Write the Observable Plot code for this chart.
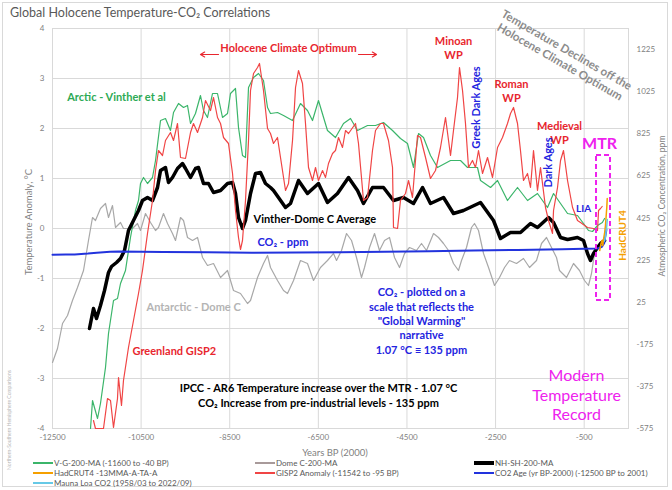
<!DOCTYPE html>
<html>
<head>
<meta charset="utf-8">
<script src="https://cdn.jsdelivr.net/npm/d3@7"></script>
<script src="https://cdn.jsdelivr.net/npm/@observablehq/plot@0.6"></script>
<style>
  html, body { margin: 0; padding: 0; background: #fff; }
  body { font-family: Lato, "DejaVu Sans", sans-serif; }
  #wrap { position: relative; width: 672px; height: 490px; overflow: hidden; background: #fff; }
  #border { position: absolute; left: 2px; top: 2px; width: 666px; height: 485px; border: 1px solid #d9d9d9; box-sizing: border-box; pointer-events: none; }
  #chart { position: absolute; left: 0; top: 0; }
  .ov { position: absolute; white-space: nowrap; color: #595959; }
  .rot { transform: translate(-50%, -50%) rotate(-90deg); transform-origin: center; }
  .leg { position: absolute; font-size: 8px; color: #595959; white-space: nowrap; line-height: 8px; transform: translateY(-50%); }
  .sw { display: inline-block; width: 20px; height: 2px; vertical-align: middle; margin-right: 1px; position: relative; top: -1px; }
</style>
</head>
<body>
<div id="wrap">
  <div id="chart"></div>
  <div id="border"></div>
  <div class="ov" style="left:10px;top:5px;font-size:12.5px;color:#595959;">Global Holocene Temperature-CO₂ Correlations</div>
  <div class="ov rot" style="left:28px;top:222px;font-size:9.5px;color:#7f7f7f;">Temperature Anomaly, °C</div>
  <div class="ov rot" style="left:662px;top:206px;font-size:8.5px;color:#7f7f7f;">Atmospheric CO₂ Concentration, ppm</div>
  <div class="ov" style="left:335px;top:453px;transform:translate(-50%,-50%);font-size:9.5px;line-height:10px;color:#7f7f7f;">Years BP (2000)</div>
  <div class="ov rot" style="left:9px;top:420px;font-size:5px;color:#b8b8b8;">Northern-Southern Hemisphere Comparisons</div>
  <div id="legend"></div>
</div>
<script>
// ---------- data (year BP(2000), value) ----------
const xTicks = [-12500, -10500, -8500, -6500, -4500, -2500, -500];
const yTicks = [-4, -3, -2, -1, 0, 1, 2, 3, 4];
const ppmTicks = [-575, -375, -175, 25, 225, 425, 625, 825, 1025, 1225];

// V-G-200-MA (Arctic - Vinther et al), °C
const arcticVinther = [[-11642,-4],[-11597,-3.44],[-11484,-3.8],[-11417,-3.5],[-11304,-2.78],[-11236,-2.1],[-11123,-1.44],[-11033,-1.4],[-10965,-1.1],[-10853,-0.84],[-10740,-0.18],[-10627,0.36],[-10559,0.56],[-10514,0.9],[-10446,1.02],[-10356,0.9],[-10243,1.02],[-10175,1.36],[-10062,2.16],[-9950,2.2],[-9837,1.96],[-9769,2.32],[-9656,2.5],[-9543,2.42],[-9453,2.46],[-9385,2.1],[-9273,2.3],[-9160,2.66],[-9092,2.36],[-9002,2.22],[-8889,2.7],[-8776,2.7],[-8663,2.22],[-8550,2.3],[-8483,2.7],[-8370,2.8],[-8302,2.02],[-8212,1.46],[-8144,1.42],[-8076,2.82],[-7963,3.02],[-7850,3.1],[-7738,2.96],[-7647,2.42],[-7580,2.3],[-7422,2.32],[-7286,2.26],[-7083,2.16],[-6903,2.5],[-6745,2.36],[-6632,2.16],[-6497,2.56],[-6294,1.96],[-6113,1.82],[-5932,2.1],[-5774,2.2],[-5616,1.96],[-5390,2.06],[-5210,2.06],[-5030,2.12],[-4826,1.96],[-4646,1.8],[-4488,1.7],[-4352,1.22],[-4239,1.9],[-4126,1.82],[-3969,1.46],[-3811,1.22],[-3517,1.36],[-3292,1.36],[-3133,1.22],[-2908,1.22],[-2840,0.96],[-2614,0.82],[-2456,0.96],[-2231,0.56],[-2005,0.82],[-1779,0.56],[-1554,0.7],[-1328,0.42],[-1192,0.7],[-1034,0.5],[-876,0.3],[-651,0.26],[-515,0.1],[-403,-0.04],[-312,-0.06],[-199,0.06],[-90,0.12],[-40,0.2]];

// Dome C-200-MA (Antarctic), °C
const domeC = [[-12500,-2.68],[-12387,-2.4],[-12274,-1.9],[-12161,-1.74],[-12049,-1.44],[-11936,-1.18],[-11800,-0.84],[-11688,-0.24],[-11597,0.22],[-11530,0.16],[-11417,0.4],[-11304,0.5],[-11236,0.22],[-11146,0.46],[-11078,0.02],[-10965,0.12],[-10898,0],[-10694,0],[-10582,0.1],[-10514,-0.04],[-10401,0.3],[-10288,0.12],[-10175,-0.04],[-10108,0.02],[-9995,0.3],[-9904,0.1],[-9792,-0.1],[-9724,-0.24],[-9611,0.22],[-9543,0.16],[-9453,-0.18],[-9340,-0.24],[-9227,-0.18],[-9114,-0.58],[-9002,-0.74],[-8866,-0.7],[-8708,-0.98],[-8550,-0.84],[-8415,-1.24],[-8257,-1.3],[-8099,-1.5],[-8031,-1.44],[-7873,-0.98],[-7738,-0.7],[-7647,-0.54],[-7580,-0.78],[-7422,-1.04],[-7286,-1.24],[-7196,-1.3],[-7060,-1.04],[-6903,-0.64],[-6745,-0.7],[-6609,-1.04],[-6452,-0.78],[-6294,-0.64],[-6158,-0.5],[-6090,-0.64],[-5977,-0.44],[-5864,-0.1],[-5751,-0.24],[-5639,-0.58],[-5526,-0.98],[-5458,-0.78],[-5345,-0.38],[-5232,-0.1],[-5120,-0.44],[-5007,-0.24],[-4894,-0.18],[-4781,-0.58],[-4668,-0.78],[-4555,-0.5],[-4443,-0.38],[-4285,-0.44],[-4172,-0.3],[-4059,-0.44],[-3901,-0.1],[-3788,-0.18],[-3675,-0.3],[-3562,-0.44],[-3450,-0.7],[-3337,-0.84],[-3269,-0.64],[-3156,-0.38],[-3043,0.02],[-2976,0.1],[-2885,-0.04],[-2772,-0.5],[-2659,-0.78],[-2524,-1.14],[-2411,-0.98],[-2298,-0.78],[-2186,-0.64],[-2028,-0.7],[-1870,-0.6],[-1734,-0.78],[-1576,-0.64],[-1463,-0.3],[-1350,-0.18],[-1238,-0.38],[-1125,-0.58],[-1057,-0.84],[-899,-0.98],[-741,-0.7],[-606,-0.84],[-493,-1.04],[-403,-1.14],[-335,-0.9],[-267,-0.5],[-176,-0.38]];

// NH-SH-200-MA (Vinther-Dome C Average), °C
const nhshAverage = [[-11665,-2],[-11575,-1.6],[-11507,-1.8],[-11417,-1.54],[-11326,-1.24],[-11236,-0.88],[-11168,-0.76],[-11055,-0.68],[-10965,-0.6],[-10875,-0.44],[-10785,-0.04],[-10672,0.16],[-10559,0.36],[-10469,0.56],[-10356,0.62],[-10243,0.56],[-10130,0.82],[-10062,1.16],[-9950,1.22],[-9882,0.92],[-9792,1.02],[-9679,1.2],[-9566,1.3],[-9498,1.2],[-9385,1.02],[-9273,1.2],[-9205,1.22],[-9092,0.9],[-8979,0.9],[-8866,0.72],[-8708,0.76],[-8550,0.9],[-8437,0.92],[-8370,0.7],[-8302,0.22],[-8212,0],[-8144,0.16],[-8031,0.7],[-7918,1.1],[-7806,1.12],[-7693,0.9],[-7580,0.82],[-7512,0.76],[-7241,0.42],[-7128,0.5],[-6948,0.96],[-6745,0.7],[-6497,0.9],[-6294,0.52],[-6068,0.7],[-5819,1.02],[-5616,0.76],[-5481,0.5],[-5278,0.82],[-5030,0.82],[-4804,0.56],[-4578,0.62],[-4352,0.5],[-4149,0.82],[-3969,0.5],[-3675,0.62],[-3450,0.3],[-3224,0.36],[-2840,0.52],[-2547,0.16],[-2389,-0.2],[-2164,-0.08],[-1938,-0.08],[-1712,0.1],[-1554,0.02],[-1305,0.22],[-1192,0.12],[-1034,-0.18],[-876,-0.22],[-651,-0.18],[-515,-0.24],[-425,-0.5],[-357,-0.64],[-290,-0.5],[-199,-0.38],[-131,-0.3],[-40,-0.24]];

// GISP2 Anomaly (Greenland), °C
const gisp2 = [[-11575,-3.84],[-11530,-4],[-11349,-4],[-11259,-3.4],[-11191,-3.44],[-11123,-3.98],[-11033,-3.4],[-11010,-2.98],[-10943,-3.54],[-10898,-3.04],[-10785,-2.38],[-10672,-1.84],[-10559,-1.3],[-10469,-0.84],[-10356,-0.1],[-10243,0.56],[-10175,1.16],[-10108,1.56],[-10017,1.46],[-9950,1.76],[-9837,1.92],[-9769,1.76],[-9679,2.1],[-9611,1.42],[-9498,1.4],[-9385,1.92],[-9318,2.1],[-9227,1.92],[-9114,2.22],[-9047,2.56],[-8934,2.36],[-8866,2.62],[-8776,2.22],[-8708,2.1],[-8640,1.82],[-8528,1.7],[-8437,1.1],[-8370,0.36],[-8302,-0.18],[-8257,-0.42],[-8212,-0.24],[-8144,0.56],[-8076,1.76],[-8031,2.76],[-7963,3.1],[-7873,3.22],[-7828,3.3],[-7738,2.76],[-7647,2],[-7580,1.9],[-7512,1.7],[-7422,1.82],[-7354,1.42],[-7241,0.76],[-7173,0.9],[-7083,1.76],[-7015,2.82],[-6948,3.16],[-6858,2.9],[-6790,2.1],[-6722,1.22],[-6632,0.96],[-6564,1.22],[-6497,0.96],[-6406,1.16],[-6338,1.02],[-6271,1.3],[-6180,1.5],[-6113,1.56],[-6045,1.82],[-5955,1.62],[-5887,1.96],[-5819,1.9],[-5661,2.1],[-5594,1.7],[-5481,0.56],[-5390,0.62],[-5278,1.56],[-5210,1.96],[-5097,2.1],[-5030,2.1],[-4917,1.76],[-4826,1.22],[-4804,0.02],[-4713,0],[-4646,0.56],[-4533,0.7],[-4465,0.96],[-4375,0.62],[-4262,1.86],[-4194,1.82],[-4081,1.42],[-3969,1],[-3856,1.16],[-3743,1.62],[-3630,2.22],[-3517,1.46],[-3450,1.96],[-3359,2.62],[-3314,3.22],[-3246,2.76],[-3179,2.1],[-3111,1.22],[-3021,1.36],[-2953,1.22],[-2885,1.56],[-2795,1.1],[-2682,1.42],[-2569,1.02],[-2456,1.62],[-2344,1.82],[-2231,2.1],[-2163,2.3],[-2095,2.42],[-2005,2.1],[-1938,1.56],[-1870,0.96],[-1779,1.1],[-1712,0.82],[-1644,1.56],[-1554,0.76],[-1486,1.22],[-1373,0.42],[-1305,0.16],[-1215,-0.1],[-1192,0.36],[-1102,0.82],[-1034,1.36],[-967,1.56],[-876,0.96],[-763,0.42],[-651,0.16],[-583,0.12],[-425,0.02],[-290,0],[-199,-0.04],[-176,0.36],[-131,0.4],[-95,0.44]];

// CO2 age (ppm, right axis)
const co2Age = [[-12500,250],[-12200,251],[-12000,252],[-11700,256],[-11500,260],[-11200,264],[-11000,266],[-10500,265],[-10000,263],[-9000,262],[-8000,260],[-7000,261],[-6000,262],[-5000,264],[-4000,267],[-3000,270],[-2000,273],[-1000,277],[-500,279],[-200,280],[-100,288],[-50,305],[0,368],[1,370]];

// HadCRUT4 (°C)
const hadcrut4 = [[-150,-0.44],[-120,-0.3],[-100,-0.24],[-80,-0.34],[-60,-0.2],[-40,-0.1],[-20,0.06],[-10,0.18],[0,0.3],[10,0.42],[20,0.6]];

// Mauna Loa CO2 (ppm, right axis)
const maunaLoa = [[-42,315],[-30,325],[-20,339],[-10,354],[0,369],[10,389],[20,414],[22,418]];

// ---------- helpers ----------
const toY = ppm => (ppm + 575) / 1900 * 8 - 4;          // ppm -> left-axis units
const fromY = v => Math.round((v + 4) / 8 * 1900 - 575);

const C = {
  green: "#3bb56a", greenTxt: "#2eaa55",
  red: "#f04545", redTxt: "#e8262e",
  gray: "#a8a8a8", black: "#000000",
  blue: "#2233dd", blueTxt: "#2424e0",
  orange: "#f5a000", cyan: "#66c9e6", magenta: "#ee22ee"
};

const annotations = [
  {text:"Holocene Climate Optimum", x:-7173, y:3.6, color:C.redTxt},
  {text:"Arctic - Vinther et al", x:-11056, y:2.62, color:C.greenTxt},
  {text:"Minoan\nWP", x:-3449, y:3.62, color:C.redTxt, lh:1.25},
  {text:"Greek Dark Ages", x:-2930, y:2.42, color:C.blueTxt, rotate:-90},
  {text:"Roman\nWP", x:-2140, y:2.76, color:C.redTxt, lh:1.25},
  {text:"Medieval\nWP", x:-1057, y:1.92, color:C.redTxt, lh:1.25},
  {text:"Dark Ages", x:-1305, y:1.32, color:C.blueTxt, rotate:-90},
  {text:"MTR", x:-154, y:1.7, color:C.magenta, size:16},
  {text:"LIA", x:-515, y:0.4, color:C.blueTxt, size:10},
  {text:"HadCRUT4", x:365, y:-0.14, color:C.orange, size:10, rotate:-90},
  {text:"Temperature Declines off the\nHolocene Climate Optimum", x:-967, y:3.46, color:"#8c8c8c", size:11.5, rotate:30, lh:1.2},
  {text:"Vinther-Dome C Average", x:-7963, y:0.18, color:"#000", anchor:"start"},
  {text:"CO₂ - ppm", x:-7873, y:-0.28, color:C.blueTxt, anchor:"start"},
  {text:"Antarctic - Dome C", x:-10378, y:-1.58, color:"#b4b4b4", anchor:"start"},
  {text:"Greenland GISP2", x:-10694, y:-2.46, color:C.redTxt, anchor:"start"},
  {text:"CO₂ - plotted on a\nscale that reflects the\n\"Global Warming\"\nnarrative\n1.07 °C ≡ 135 ppm", x:-4172, y:-1.84, color:C.blueTxt, lh:1.3},
  {text:"IPCC - AR6 Temperature increase over the MTR - 1.07 °C\nCO₂ Increase from pre-industrial levels - 135 ppm", x:-6496, y:-3.33, color:"#000", lh:1.35},
  {text:"Modern\nTemperature\nRecord", x:-673, y:-3.32, color:C.magenta, size:16, weight:"normal", lh:1.2}
];
const optimumArrows = [
  {x1:-8753, y1:3.48, x2:-9160, y2:3.48},
  {x1:-5594, y1:3.48, x2:-5187, y2:3.48}
];
const mtrBox = [{x1:-222, x2:94, y1:1.46, y2:-1.44}];

const px = d => d[0], py = d => d[1];

const marks = [
  Plot.gridX(xTicks, {stroke:"#d9d9d9", strokeOpacity:1}),
  Plot.gridY(yTicks, {stroke:"#d9d9d9", strokeOpacity:1}),
  Plot.frame({stroke:"#d9d9d9"}),
  Plot.axisX({ticks:xTicks, tickSize:0, tickPadding:6, tickFormat:d => String(d), label:null, fontSize:8, fill:"#7f7f7f"}),
  Plot.axisY({ticks:yTicks, tickSize:0, tickPadding:8, tickFormat:d => String(d), label:null, fontSize:8, fill:"#7f7f7f"}),
  Plot.axisY({anchor:"right", ticks:ppmTicks.map(toY), tickSize:0, tickPadding:8, tickFormat:v => String(fromY(v)), label:null, fontSize:8, fill:"#7f7f7f"}),
  Plot.line(domeC, {x:px, y:py, stroke:C.gray, strokeWidth:1.2}),
  Plot.line(arcticVinther, {x:px, y:py, stroke:C.green, strokeWidth:1.2}),
  Plot.line(nhshAverage, {x:px, y:py, stroke:C.black, strokeWidth:3.5}),
  Plot.line(gisp2, {x:px, y:py, stroke:C.red, strokeWidth:1.2}),
  Plot.line(co2Age, {x:px, y:d => toY(d[1]), stroke:C.blue, strokeWidth:2}),
  Plot.line(hadcrut4, {x:px, y:py, stroke:C.orange, strokeWidth:1.5}),
  Plot.line(maunaLoa, {x:px, y:d => toY(d[1]), stroke:C.cyan, strokeWidth:1.5}),
  Plot.rect(mtrBox, {x1:"x1", x2:"x2", y1:"y1", y2:"y2", fill:"none", stroke:C.magenta, strokeWidth:2, strokeDasharray:"5,3"}),
  Plot.arrow(optimumArrows, {x1:"x1", y1:"y1", x2:"x2", y2:"y2", stroke:C.redTxt, strokeWidth:1.2, headLength:6})
];
for (const a of annotations) {
  marks.push(Plot.text([a], {
    x:"x", y:"y", text:"text",
    fill:a.color, fontSize:a.size || 11, fontWeight:a.weight || "bold",
    rotate:a.rotate || 0, textAnchor:a.anchor || "middle", lineHeight:a.lh || 1
  }));
}

const chart = Plot.plot({
  width:672, height:490,
  marginLeft:52, marginRight:44, marginTop:28, marginBottom:62,
  style:{fontFamily:"Lato, 'DejaVu Sans', sans-serif", background:"transparent", overflow:"visible"},
  x:{domain:[-12500, 500]},
  y:{domain:[-4, 4]},
  marks
});
document.getElementById("chart").appendChild(chart);

// ---------- legend ----------
const legendItems = [
  {label:"V-G-200-MA (-11600 to -40 BP)", color:C.green, w:2, left:33, top:463},
  {label:"Dome C-200-MA", color:"#a89a9a", w:1.5, left:255, top:463},
  {label:"NH-SH-200-MA", color:"#000", w:4, left:474, top:463},
  {label:"HadCRUT4 -13MMA-A-TA-A", color:C.orange, w:2, left:33, top:473},
  {label:"GISP2 Anomaly (-11542 to -95 BP)", color:C.red, w:2, left:255, top:473},
  {label:"CO2 Age (yr BP-2000) (-12500 BP to 2001)", color:C.blue, w:2.5, left:474, top:473},
  {label:"Mauna Loa CO2 (1958/03 to 2022/09)", color:C.cyan, w:2, left:33, top:483}
];
const leg = document.getElementById("legend");
for (const it of legendItems) {
  const d = document.createElement("div");
  d.className = "leg";
  d.style.left = it.left + "px";
  d.style.top = it.top + "px";
  const s = document.createElement("span");
  s.className = "sw";
  s.style.background = it.color;
  s.style.height = it.w + "px";
  d.appendChild(s);
  d.appendChild(document.createTextNode(it.label));
  leg.appendChild(d);
}
</script>
</body>
</html>
